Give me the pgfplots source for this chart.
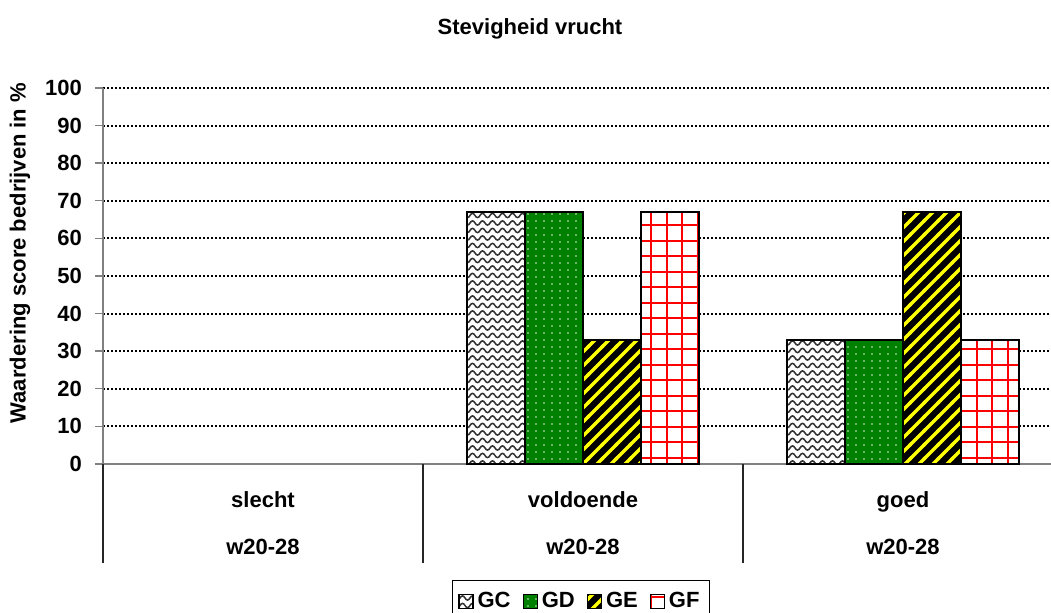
\documentclass[border=0pt]{standalone}
\usepackage{fontspec}
\setmainfont{Liberation Sans}
\usepackage{pgfplots}
\pgfplotsset{compat=1.18}
\usetikzlibrary{patterns}

% wavy lines (GC)
\pgfdeclarepatternformonly{wavy}{\pgfqpoint{-0.1pt}{-1.875pt}}{\pgfqpoint{5.1pt}{1.875pt}}{\pgfqpoint{5pt}{3.75pt}}{%
  \pgfsetlinewidth{0.75pt}%
  \pgfpathmoveto{\pgfqpoint{-2.5pt}{0pt}}%
  \pgfpathcurveto{\pgfqpoint{-1.7pt}{-1.4pt}}{\pgfqpoint{-0.8pt}{-1.4pt}}{\pgfqpoint{0pt}{0pt}}%
  \pgfpathcurveto{\pgfqpoint{0.8pt}{1.4pt}}{\pgfqpoint{1.7pt}{1.4pt}}{\pgfqpoint{2.5pt}{0pt}}%
  \pgfpathcurveto{\pgfqpoint{3.3pt}{-1.4pt}}{\pgfqpoint{4.2pt}{-1.4pt}}{\pgfqpoint{5pt}{0pt}}%
  \pgfpathcurveto{\pgfqpoint{5.8pt}{1.4pt}}{\pgfqpoint{6.7pt}{1.4pt}}{\pgfqpoint{7.5pt}{0pt}}%
  \pgfusepath{stroke}}
% sparse dots (GD)
\pgfdeclarepatternformonly{sparsedots}{\pgfqpoint{-0.5pt}{-0.5pt}}{\pgfqpoint{0.5pt}{0.5pt}}{\pgfqpoint{4pt}{3.5pt}}{%
  \pgfpathcircle{\pgfqpoint{0pt}{0pt}}{0.4pt}\pgfusepath{fill}}
% wide diagonal stripes (GE)
\pgfdeclarepatternformonly{wideNE}{\pgfqpoint{-1pt}{-1pt}}{\pgfqpoint{8pt}{8pt}}{\pgfqpoint{7pt}{7pt}}{%
  \pgfsetlinewidth{1.6pt}%
  \pgfpathmoveto{\pgfqpoint{-1pt}{-1pt}}\pgfpathlineto{\pgfqpoint{8pt}{8pt}}\pgfusepath{stroke}}
% grid (GF)
\pgfdeclarepatternformonly{widegrid}{\pgfqpoint{-1pt}{-1pt}}{\pgfqpoint{8.75pt}{8.75pt}}{\pgfqpoint{7.75pt}{7.75pt}}{%
  \pgfsetlinewidth{1pt}%
  \pgfpathmoveto{\pgfqpoint{0pt}{-1pt}}\pgfpathlineto{\pgfqpoint{0pt}{8.75pt}}%
  \pgfpathmoveto{\pgfqpoint{-1pt}{0pt}}\pgfpathlineto{\pgfqpoint{8.75pt}{0pt}}%
  \pgfusepath{stroke}}

\definecolor{gdgreen}{RGB}{0,128,0}
\definecolor{axgray}{RGB}{128,128,128}

\pgfplotsset{
  sqlegend/.style={legend image code/.code={\draw[##1] (0pt,-3.5pt) rectangle (7pt,3.5pt);}},
}

\begin{document}
\begin{tikzpicture}
\useasboundingbox (0,0) rectangle (525.5pt,306.5pt);
\clip (0,0) rectangle (525.5pt,306.5pt);
\begin{axis}[
  at={(51.5pt,74.5pt)}, anchor=south west,
  scale only axis, width=474pt, height=188pt,
  xmin=-0.5, xmax=2.4625, ymin=0, ymax=100,
  clip=false,
  axis x line*=bottom, axis y line*=left,
  axis line style={draw=axgray, line width=0.9pt, -},
  ybar, bar width=29pt,
  ytick={0,10,...,100},
  ymajorgrids,
  major grid style={black, line width=1pt, dash pattern=on 1pt off 1pt},
  tick align=outside,
  major tick length=4pt,
  ytick style={draw=axgray, line width=0.7pt},
  /pgf/number format/assume math mode=true,
  yticklabel style={font=\fontsize{11}{13}\selectfont\bfseries, xshift=-3pt},
  xtick={0,1,2},
  xticklabels={slecht,voldoende,goed},
  xtick style={draw=none},
  xticklabel style={font=\fontsize{11}{13}\selectfont\bfseries, anchor=base, yshift=-18pt},
  extra x ticks={0,1,2},
  extra x tick labels={w20-28,w20-28,w20-28},
  extra x tick style={tick style={draw=none}, xticklabel style={yshift=-23.5pt}},
  ylabel={Waardering score bedrijven in \%},
  ylabel style={at={(axis description cs:-0.0876,0.561)}, anchor=center, font=\fontsize{11}{13}\selectfont\bfseries},
  legend columns=4,
  legend style={at={(axis description cs:0.5042,-0.3085)}, anchor=north,
    draw=black, line width=0.5pt, font=\fontsize{11}{13}\selectfont\bfseries,
    /tikz/every even column/.append style={column sep=4pt},
    inner xsep=3pt, inner ysep=4pt},
]
\addplot[sqlegend, bar shift=-43.5pt, draw=black, line width=0.6pt, fill=white,
  postaction={pattern=wavy, pattern color=black!80}]
  coordinates {(1,67) (2,33)};
\addplot[sqlegend, bar shift=-14.5pt, draw=black, line width=0.6pt, fill=gdgreen,
  postaction={pattern=sparsedots, pattern color=white!85!gdgreen}]
  coordinates {(1,67) (2,33)};
\addplot[sqlegend, bar shift=14.5pt, draw=black, line width=0.6pt, fill=black,
  postaction={pattern=wideNE, pattern color=yellow}]
  coordinates {(1,33) (2,67)};
\addplot[sqlegend, bar shift=43.5pt, draw=black, line width=0.6pt, fill=white,
  postaction={pattern=widegrid, pattern color=red}]
  coordinates {(1,67) (2,33)};
\legend{GC,GD,GE,GF}
\draw[black!85, line width=0.6pt] (axis cs:-0.5,0) -- ++(0pt,-49.5pt);
\draw[black!85, line width=0.6pt] (axis cs:0.5,0) -- ++(0pt,-49.5pt);
\draw[black!85, line width=0.6pt] (axis cs:1.5,0) -- ++(0pt,-49.5pt);
\end{axis}
\node[anchor=base, font=\fontsize{11}{13}\selectfont\bfseries] at (265pt,289.2pt) {Stevigheid vrucht};
\end{tikzpicture}
\end{document}
